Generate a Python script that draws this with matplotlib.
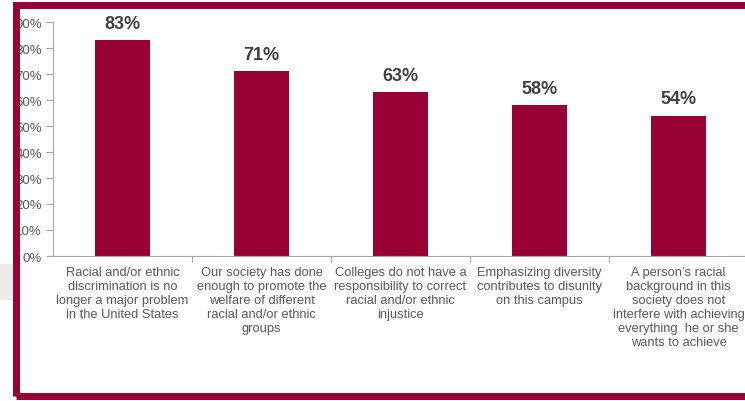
import matplotlib as mpl
import matplotlib.pyplot as plt
from matplotlib.patches import Rectangle
from matplotlib.ticker import PercentFormatter

mpl.rcParams['font.family'] = ['Liberation Sans', 'DejaVu Sans']

# Share of respondents agreeing with each statement
statements = [
    "Racial and/or ethnic\ndiscrimination is no\nlonger a major problem\nin the United States",
    "Our society has done\nenough to promote the\nwelfare of different\nracial and/or ethnic\ngroups",
    "Colleges do not have a\nresponsibility to correct\nracial and/or ethnic\ninjustice",
    "Emphasizing diversity\ncontributes to disunity\non this campus",
    "A person\u2019s racial\nbackground in this\nsociety does not\ninterfere with achieving\neverything  he or she\nwants to achieve",
]
agree_pct = [83, 71, 63, 58, 54]
y_ticks = [0, 10, 20, 30, 40, 50, 60, 70, 80, 90]

BAR_COLOR = "#990033"
FRAME_COLOR = "#990033"
TEXT_GREY = "#595959"
AXIS_GREY = "#a6a6a6"

fig = plt.figure(figsize=(7.45, 4.02), dpi=100)

# faint grey band behind the left edge
fig.patches.append(Rectangle((0, 1 - 300 / 402), 15 / 745, 35 / 402,
                             transform=fig.transFigure, color="#ececec", zorder=0))
# dark red frame around the chart
fig.patches.append(Rectangle((16 / 745, 5.5 / 402), 1.0, 391 / 402,
                             transform=fig.transFigure, fill=False,
                             edgecolor=FRAME_COLOR, linewidth=5, zorder=1))

ax = fig.add_axes([53 / 745, 1 - 257 / 402, 695 / 745, 234 / 402])
x = range(len(statements))
ax.bar(x, agree_pct, width=0.4, color=BAR_COLOR, zorder=2)

for xi, v in zip(x, agree_pct):
    ax.text(xi, v + 3.3, f"{v}%", ha="center", va="bottom",
            fontsize=13, fontweight="bold", color="#404040")

ax.set_xlim(-0.5, len(statements) - 0.5)
ax.set_ylim(0, 90)
ax.set_yticks(y_ticks)
ax.yaxis.set_major_formatter(PercentFormatter(decimals=0))
ax.tick_params(axis="y", labelsize=9.5, labelcolor=TEXT_GREY, color=AXIS_GREY,
               length=5, width=0.8, pad=3)

# category boundaries as x ticks, labels centred under the bars
ax.set_xticks([i + 0.5 for i in range(len(statements) - 1)])
ax.set_xticklabels([])
ax.set_xticks(list(x), minor=True)
ax.set_xticklabels(statements, minor=True, fontsize=9.3, color=TEXT_GREY,
                   linespacing=1.22, va="top")
ax.tick_params(axis="x", which="major", length=4, color=AXIS_GREY, width=0.8)
ax.tick_params(axis="x", which="minor", length=0, pad=7)

for side in ("top", "right"):
    ax.spines[side].set_visible(False)
for side in ("left", "bottom"):
    ax.spines[side].set_color(AXIS_GREY)
    ax.spines[side].set_linewidth(0.8)

fig.savefig("out.png", dpi=100)
